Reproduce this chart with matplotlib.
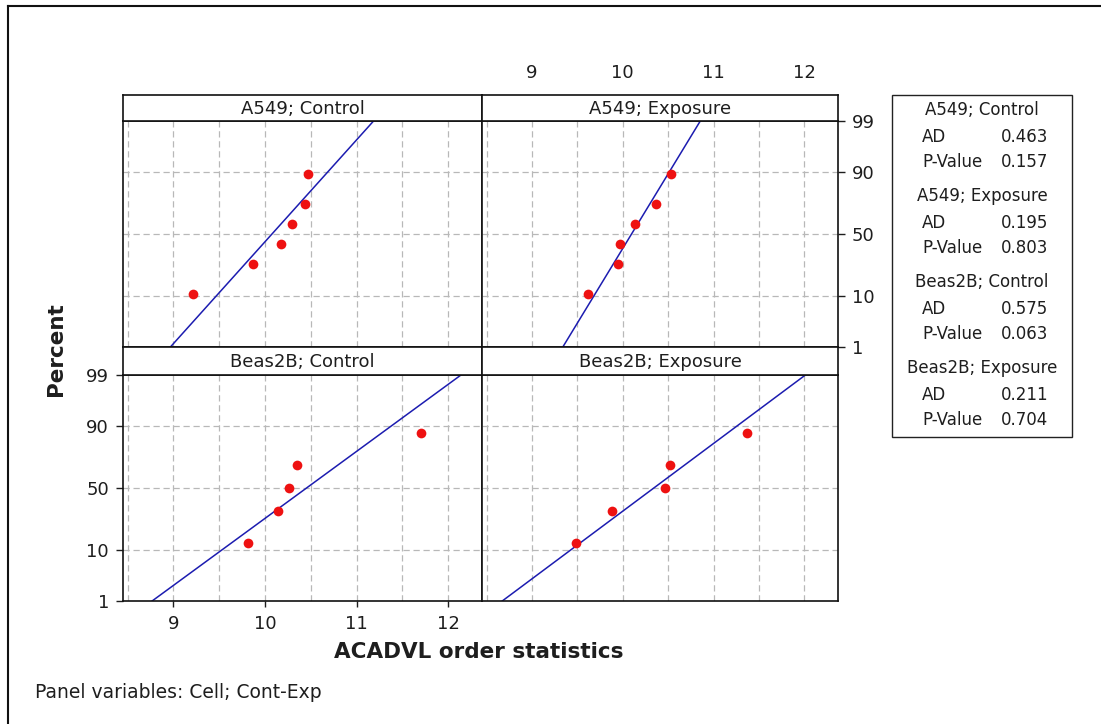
import matplotlib
matplotlib.use("Agg")
import matplotlib.pyplot as plt
from matplotlib.patches import Rectangle
from matplotlib.lines import Line2D
from statistics import NormalDist, mean, stdev

# Data
panel_names = ['A549; Control', 'A549; Exposure', 'Beas2B; Control', 'Beas2B; Exposure']
a549_control = [9.21, 9.87, 10.18, 10.29, 10.44, 10.47]
a549_exposure = [9.62, 9.95, 9.97, 10.14, 10.37, 10.53]
beas2b_control = [9.82, 10.14, 10.26, 10.35, 11.70]
beas2b_exposure = [9.48, 9.88, 10.46, 10.52, 11.37]
pct_six = [10.9, 26.6, 42.2, 57.8, 73.4, 89.1]
pct_five = [12.9, 31.5, 50.0, 68.5, 87.0]
ad_values = ['0.463', '0.195', '0.575', '0.211']
p_values = ['0.157', '0.803', '0.063', '0.704']
pct_ticks = [1, 10, 50, 90, 99]
pct_grid = [10, 50, 90]
x_ticks = [9, 10, 11, 12]
x_grid = [8.5, 9, 9.5, 10, 10.5, 11, 11.5, 12]

samples = [a549_control, a549_exposure, beas2b_control, beas2b_exposure]
percents = [pct_six, pct_six, pct_five, pct_five]

plt.rcParams['font.family'] = 'DejaVu Sans'
TXT = '#1e1e1e'

W, H = 1101, 724
fig = plt.figure(figsize=(W / 100, H / 100), dpi=100)


def box(x0, y0, x1, y1):
    # pixel box (top-left origin) -> figure fraction
    return [x0 / W, 1 - y1 / H, (x1 - x0) / W, (y1 - y0) / H]


nd = NormalDist()
z = lambda p: nd.inv_cdf(p / 100.0)
xlim = (8.45, 12.37)
ylim = (z(1), z(99))

cols = [(123, 482), (482, 838)]
rows = [(95, 121, 347), (347, 375, 601)]

for i, name in enumerate(panel_names):
    r, c = divmod(i, 2)
    x0, x1 = cols[c]
    s0, p0, p1 = rows[r]

    ax = fig.add_axes(box(x0, p0, x1, p1))
    ax.set_xlim(xlim)
    ax.set_ylim(ylim)
    for gx in x_grid:
        ax.axvline(gx, color='#b8b8b8', lw=0.9, ls=(0, (5, 3)), zorder=1)
    for gp in pct_grid:
        ax.axhline(z(gp), color='#b8b8b8', lw=0.9, ls=(0, (5, 3)), zorder=1)

    # fitted normal line from sample mean / std
    data = samples[i]
    mu, sd = mean(data), stdev(data)
    ax.plot([mu + sd * ylim[0], mu + sd * ylim[1]], list(ylim), color='#1c1cb0', lw=1.1, zorder=2)
    ax.plot(data, [z(p) for p in percents[i]], 'o', color='#ee1111', ms=7, mec='none', zorder=3)

    for sp in ax.spines.values():
        sp.set_linewidth(1.2)
        sp.set_color('#111111')

    ax.set_xticks([])
    ax.set_yticks([])
    if r == 1 and c == 0:
        ax.set_xticks(x_ticks)
        ax.set_yticks([z(p) for p in pct_ticks])
        ax.set_yticklabels([str(p) for p in pct_ticks])
        ax.tick_params(axis='x', direction='out', length=4, width=1, pad=6, labelsize=13, colors=TXT)
        ax.tick_params(axis='y', direction='out', length=5, width=1, pad=5, labelsize=13, colors=TXT)
    if r == 0 and c == 1:
        ax.yaxis.tick_right()
        ax.set_yticks([z(p) for p in pct_ticks])
        ax.set_yticklabels([str(p) for p in pct_ticks])
        ax.tick_params(axis='y', direction='out', length=5, width=1, pad=5, labelsize=13, colors=TXT)

    strip = fig.add_axes(box(x0, s0, x1, p0))
    strip.set_xlim(xlim)
    strip.set_xticks([])
    strip.set_yticks([])
    for sp in strip.spines.values():
        sp.set_linewidth(1.2)
        sp.set_color('#111111')
    strip.text(0.5, 0.45, name, ha='center', va='center', fontsize=13, color=TXT,
               transform=strip.transAxes)
    if r == 0 and c == 1:
        strip.xaxis.tick_top()
        strip.set_xticks(x_ticks)
        strip.tick_params(axis='x', length=0, pad=9, labelsize=13, colors=TXT)

# axis titles
fig.text(56 / W, 1 - 349 / H, 'Percent', rotation=90, ha='center', va='center',
         fontsize=15.5, fontweight='bold', color=TXT)
fig.text(479 / W, 1 - 652 / H, 'ACADVL order statistics', ha='center', va='center',
         fontsize=15.5, fontweight='bold', color=TXT)
fig.text(35 / W, 1 - 693 / H, 'Panel variables: Cell; Cont-Exp', ha='left', va='center',
         fontsize=13.5, color=TXT)

# statistics table on the right
fig.patches.append(Rectangle((892 / W, 1 - 437 / H), (1072 - 892) / W, (437 - 95) / H,
                             transform=fig.transFigure, fill=False, ec='#222222', lw=1.0))
for i, name in enumerate(panel_names):
    g = 110 + 86 * i
    fig.text(982 / W, 1 - g / H, name, ha='center', va='center', fontsize=12, color=TXT)
    fig.text(922 / W, 1 - (g + 27) / H, 'AD', ha='left', va='center', fontsize=12, color=TXT)
    fig.text(1048 / W, 1 - (g + 27) / H, ad_values[i], ha='right', va='center', fontsize=12, color=TXT)
    fig.text(922 / W, 1 - (g + 52) / H, 'P-Value', ha='left', va='center', fontsize=12, color=TXT)
    fig.text(1048 / W, 1 - (g + 52) / H, p_values[i], ha='right', va='center', fontsize=12, color=TXT)

# outer frame (top and left edges visible)
fig.lines.append(Line2D([8 / W, 1], [1 - 6 / H, 1 - 6 / H], transform=fig.transFigure, color='#111111', lw=1.5))
fig.lines.append(Line2D([8 / W, 8 / W], [0, 1 - 6 / H], transform=fig.transFigure, color='#111111', lw=1.5))

fig.savefig('out.png', dpi=100)
